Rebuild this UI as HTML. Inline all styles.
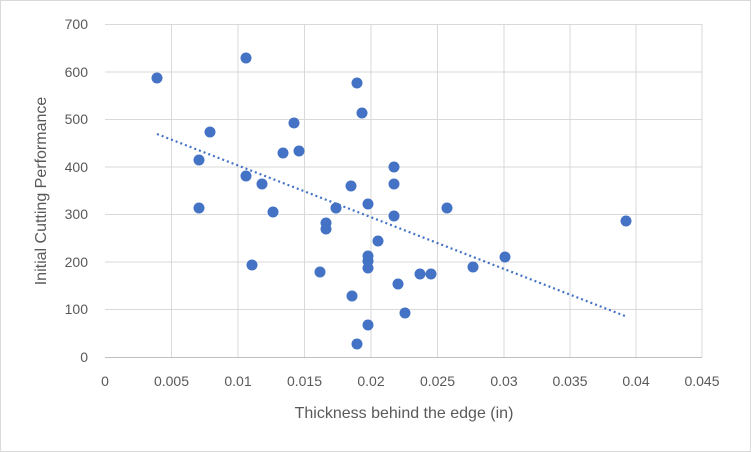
<!DOCTYPE html>
<html><head><style>
body{margin:0;background:#fff;}
svg{display:block;font-family:"Liberation Sans",sans-serif;}
</style></head><body>
<svg width="751" height="452" viewBox="0 0 751 452">
<rect x="0.5" y="0.5" width="750" height="451" fill="#fff" stroke="#d9d9d9"/>
<g stroke="#d9d9d9" stroke-width="1">
<line x1="105" y1="24.5" x2="702" y2="24.5"/>
<line x1="105" y1="72" x2="702" y2="72"/>
<line x1="105" y1="119.5" x2="702" y2="119.5"/>
<line x1="105" y1="167" x2="702" y2="167"/>
<line x1="105" y1="214.5" x2="702" y2="214.5"/>
<line x1="105" y1="262" x2="702" y2="262"/>
<line x1="105" y1="309.5" x2="702" y2="309.5"/>
<line x1="171.5" y1="24" x2="171.5" y2="357"/>
<line x1="238" y1="24" x2="238" y2="357"/>
<line x1="304.5" y1="24" x2="304.5" y2="357"/>
<line x1="371" y1="24" x2="371" y2="357"/>
<line x1="437.5" y1="24" x2="437.5" y2="357"/>
<line x1="504" y1="24" x2="504" y2="357"/>
<line x1="570" y1="24" x2="570" y2="357"/>
<line x1="636" y1="24" x2="636" y2="357"/>
<line x1="702" y1="24" x2="702" y2="357"/>
</g>
<line x1="105" y1="357.5" x2="702" y2="357.5" stroke="#bfbfbf"/>
<g font-size="14" fill="#595959" text-anchor="end">
<text x="88" y="29">700</text><text x="88" y="77">600</text><text x="88" y="124">500</text>
<text x="88" y="172">400</text><text x="88" y="219">300</text><text x="88" y="267">200</text>
<text x="88" y="314">100</text><text x="88" y="362">0</text>
</g>
<g font-size="14" fill="#595959" text-anchor="middle">
<text x="105" y="386">0</text><text x="171.5" y="386">0.005</text><text x="238" y="386">0.01</text>
<text x="304.5" y="386">0.015</text><text x="371" y="386">0.02</text><text x="437.5" y="386">0.025</text>
<text x="504" y="386">0.03</text><text x="570" y="386">0.035</text><text x="636" y="386">0.04</text>
<text x="702" y="386">0.045</text>
</g>
<text x="404" y="418" font-size="16" fill="#595959" text-anchor="middle">Thickness behind the edge (in)</text>
<text transform="translate(46,191) rotate(-90)" font-size="16" fill="#595959" text-anchor="middle">Initial Cutting Performance</text>
<line x1="157" y1="134" x2="625" y2="316" stroke="#4472c4" stroke-width="2.2" stroke-dasharray="2,3"/>
<g fill="#4472c4">
<circle cx="157" cy="78" r="5.5"/><circle cx="246" cy="58" r="5.5"/><circle cx="357" cy="83" r="5.5"/>
<circle cx="362" cy="113" r="5.5"/><circle cx="210" cy="132" r="5.5"/><circle cx="294" cy="123" r="5.5"/>
<circle cx="283" cy="153" r="5.5"/><circle cx="299" cy="151" r="5.5"/><circle cx="199" cy="160" r="5.5"/>
<circle cx="246" cy="176" r="5.5"/><circle cx="262" cy="184" r="5.5"/><circle cx="351" cy="186" r="5.5"/>
<circle cx="394" cy="167" r="5.5"/><circle cx="394" cy="184" r="5.5"/><circle cx="368" cy="204" r="5.5"/>
<circle cx="199" cy="208" r="5.5"/><circle cx="273" cy="212" r="5.5"/>
<circle cx="336" cy="208" r="5.5"/><circle cx="326" cy="223" r="5.5"/><circle cx="326" cy="229" r="5.5"/>
<circle cx="394" cy="216" r="5.5"/><circle cx="447" cy="208" r="5.5"/><circle cx="378" cy="241" r="5.5"/>
<circle cx="252" cy="265" r="5.5"/><circle cx="320" cy="272" r="5.5"/><circle cx="368" cy="256" r="5.5"/>
<circle cx="368" cy="261" r="5.5"/><circle cx="368" cy="268" r="5.5"/><circle cx="473" cy="267" r="5.5"/>
<circle cx="505" cy="257" r="5.5"/><circle cx="420" cy="274" r="5.5"/><circle cx="431" cy="274" r="5.5"/>
<circle cx="398" cy="284" r="5.5"/><circle cx="352" cy="296" r="5.5"/><circle cx="368" cy="325" r="5.5"/>
<circle cx="405" cy="313" r="5.5"/><circle cx="357" cy="344" r="5.5"/><circle cx="626" cy="221" r="5.5"/>
</g>
</svg>
</body></html>
